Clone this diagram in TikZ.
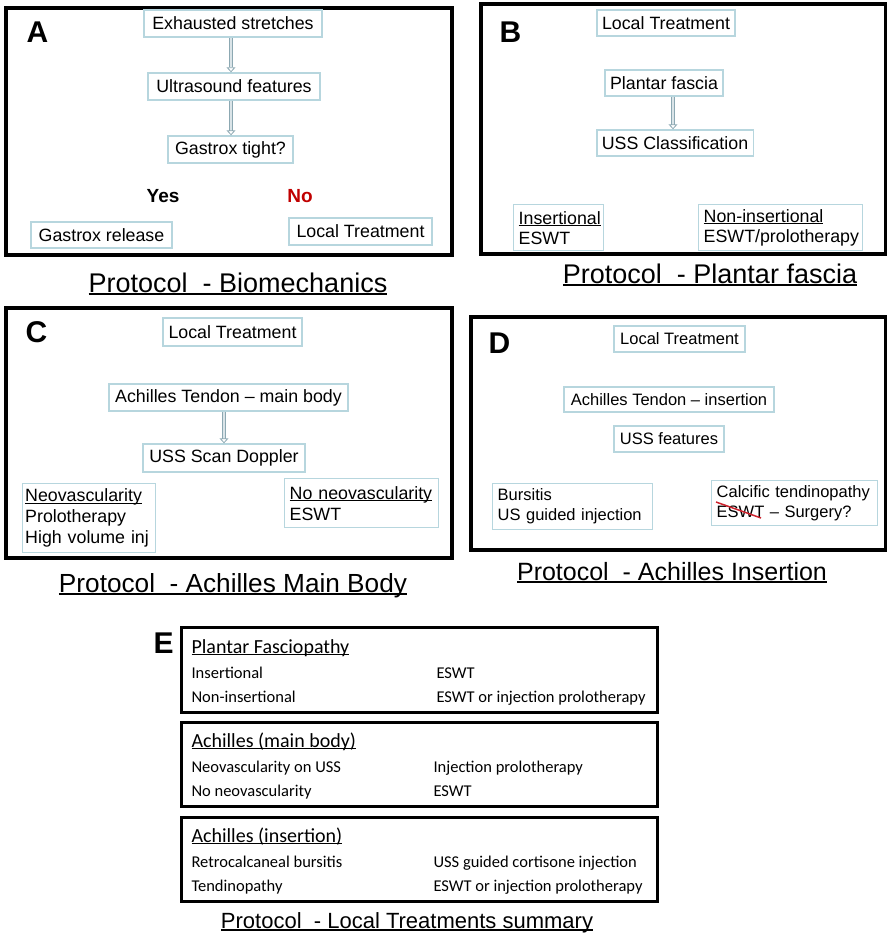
\documentclass[tikz,border=0pt]{standalone}
\usepackage{fontspec}
\setmainfont{Liberation Sans}
\newfontfamily\calfont{Carlito}
\usetikzlibrary{arrows.meta}
\definecolor{boxblue}{RGB}{183,214,222}
\definecolor{flowgray}{RGB}{140,168,178}
\definecolor{flowfill}{RGB}{218,228,232}
\definecolor{nored}{RGB}{192,0,0}
\definecolor{strikered}{RGB}{205,35,45}

% underline at a fixed depth, crossing the descenders
\newcommand\undl[1]{\setbox0\hbox{#1}\rlap{\rule[-0.12em]{\wd0}{0.07em}}\box0}

\tikzset{
  panel/.style={draw=black, line width=3.5pt},
  sumbox/.style={draw=black, line width=3pt},
  tbox/.style={draw=boxblue, line width=1.4pt, inner xsep=5pt, inner ysep=0pt,
               font=\fontsize{17.8}{20}\selectfont},
  tboxl/.style={tbox, align=left, anchor=north west},
  flow/.style={draw=flowgray, line width=0.8pt, double=flowfill, double distance=2.6pt,
               -{Triangle[open, length=5pt, width=9pt]}},
  plabel/.style={font=\fontsize{30}{32}\selectfont\bfseries, anchor=base west},
  ptitle/.style={font=\fontsize{27}{30}\selectfont, anchor=base},
  answer/.style={font=\fontsize{19}{22}\selectfont\bfseries, anchor=base},
  ehead/.style={font=\calfont\fontsize{20}{24}\selectfont, anchor=base west},
  erow/.style={font=\calfont\fontsize{16.5}{20}\selectfont, anchor=base west}
}

\begin{document}
\begin{tikzpicture}[x=1pt, y=-1pt]
  \useasboundingbox (0,0) rectangle (888,934);

  % A -- biomechanics
  \draw[panel] (6,8) rectangle (452,255);
  \node[plabel] (labA) at (23,43) {A};
  \node[tbox, minimum width=178pt, minimum height=27pt] (exA) at (233,23.5) {Exhausted stretches};
  \node[tbox, minimum width=172pt, minimum height=27pt] (usA) at (234,86.5) {Ultrasound features};
  \node[tbox, minimum width=125pt, minimum height=27pt] (gtA) at (230.5,149.5) {Gastrox tight?};
  \node[answer] (yesA) at (163,202) {Yes};
  \node[answer, text=nored] (noA) at (300,202) {No};
  \node[tbox, minimum width=141pt, minimum height=26pt] (grA) at (101.5,235) {Gastrox release};
  \node[tbox, minimum width=143pt, minimum height=27pt] (ltA) at (360.5,231.5) {Local Treatment};
  \draw[flow] ([xshift=-2pt]exA.south) -- ([xshift=-2pt]exA.south |- usA.north);
  \draw[flow] ([xshift=-3pt]usA.south) -- ([xshift=-3pt]usA.south |- gtA.north);
  \node[ptitle] (titleA) at (238,292) {\undl{Protocol\ \ - Biomechanics}};

  % B -- plantar fascia
  \draw[panel] (481,4) rectangle (885.5,254);
  \node[plabel] (labB) at (496,43) {B};
  \node[tbox, minimum width=136pt, minimum height=26pt] (ltB) at (666,23) {Local Treatment};
  \node[tbox, minimum width=116pt, minimum height=26pt] (pfB) at (664,83) {Plantar fascia};
  \node[tbox, minimum width=154pt, minimum height=26pt] (ucB) at (675,143) {USS Classification};
  \node[tboxl, text width=80pt, minimum height=46pt] (insB) at (513,204) {\undl{Insertional}\\ESWT};
  \node[tboxl, text width=154pt, minimum height=46pt] (nonB) at (698,204) {\undl{Non-insertional}\\ESWT/prolotherapy};
  \draw[flow] (pfB.south -| 673,0) -- (ucB.north -| 673,0);
  \node[ptitle] (titleB) at (710,283) {\undl{Protocol\ \ - Plantar fascia}};

  % C -- Achilles main body
  \draw[panel] (6,308) rectangle (452,558);
  \node[plabel] (labC) at (22,342) {C};
  \node[tbox, minimum width=139pt, minimum height=28pt] (ltC) at (232.5,332) {Local Treatment};
  \node[tbox, minimum width=239pt, minimum height=27pt] (atC) at (228.5,397.5) {Achilles Tendon -- main body};
  \node[tbox, minimum width=162pt, minimum height=28pt] (sdC) at (224,458) {USS Scan Doppler};
  \node[tboxl, text width=128pt, inner xsep=2.5pt, minimum height=69pt, font=\fontsize{17.8}{21}\selectfont] (neoC) at (22,483)
       {\undl{Neovascularity}\\Prolotherapy\\High volume inj};
  \node[tboxl, text width=144pt, minimum height=49pt, font=\fontsize{17.8}{21}\selectfont] (nnoC) at (284,478)
       {\undl{No neovascularity}\\ESWT};
  \draw[flow] (atC.south -| 224,0) -- (sdC.north);
  \node[ptitle, font=\fontsize{26.2}{30}\selectfont] (titleC) at (233,592) {\undl{Protocol\ \ - Achilles Main Body}};

  % D -- Achilles insertion
  \draw[panel] (471,317) rectangle (885.5,550);
  \node[plabel] (labD) at (485,353) {D};
  \node[tbox, minimum width=131pt, minimum height=26pt, font=\fontsize{16.5}{20}\selectfont] (ltD) at (679.5,339) {Local Treatment};
  \node[tbox, minimum width=210pt, minimum height=25pt, font=\fontsize{16.5}{20}\selectfont] (atD) at (669,399.5) {Achilles Tendon -- insertion};
  \node[tbox, minimum width=110pt, minimum height=26pt, font=\fontsize{16.5}{20}\selectfont] (ufD) at (669,439) {USS features};
  \node[tboxl, text width=150pt, minimum height=46pt, font=\fontsize{16.5}{20}\selectfont] (buD) at (492,483)
       {Bursitis\\US guided injection};
  \node[tboxl, text width=156pt, minimum height=45pt, font=\fontsize{16.5}{20}\selectfont] (caD) at (711,480)
       {Calcific tendinopathy\\ESWT -- Surgery?};
  \draw[strikered, line width=1.5pt] (716,502) -- (761,518);
  \node[ptitle, font=\fontsize{25}{30}\selectfont] (titleD) at (672,580) {\undl{Protocol\ \ - Achilles Insertion}};

  % E -- summary
  \node[plabel] (labE) at (150,653) {E};
  \draw[sumbox] (181,627) rectangle (657,712);
  \draw[sumbox] (181,722) rectangle (657,806);
  \draw[sumbox] (181,817) rectangle (657,901);
  \node[ehead] (pfE) at (188,653) {\undl{Plantar Fasciopathy}};
  \node[erow] (pf1E) at (188,678) {Insertional};
  \node[erow] (pf1tE) at (433,678) {ESWT};
  \node[erow] (pf2E) at (188,702) {Non-insertional};
  \node[erow] (pf2tE) at (433,702) {ESWT or injection prolotherapy};
  \node[ehead] (mbE) at (188,747) {\undl{Achilles (main body)}};
  \node[erow] (mb1E) at (188,772) {Neovascularity on USS};
  \node[erow] (mb1tE) at (430,772) {Injection prolotherapy};
  \node[erow] (mb2E) at (188,796) {No neovascularity};
  \node[erow] (mb2tE) at (430,796) {ESWT};
  \node[ehead] (inE) at (188,842) {\undl{Achilles (insertion)}};
  \node[erow] (in1E) at (188,867) {Retrocalcaneal bursitis};
  \node[erow] (in1tE) at (430,867) {USS guided cortisone injection};
  \node[erow] (in2E) at (188,891) {Tendinopathy};
  \node[erow] (in2tE) at (430,891) {ESWT or injection prolotherapy};
  \node[ptitle, font=\fontsize{22}{26}\selectfont] (titleE) at (407,928) {\undl{Protocol\ \ - Local Treatments summary}};
\end{tikzpicture}
\end{document}
